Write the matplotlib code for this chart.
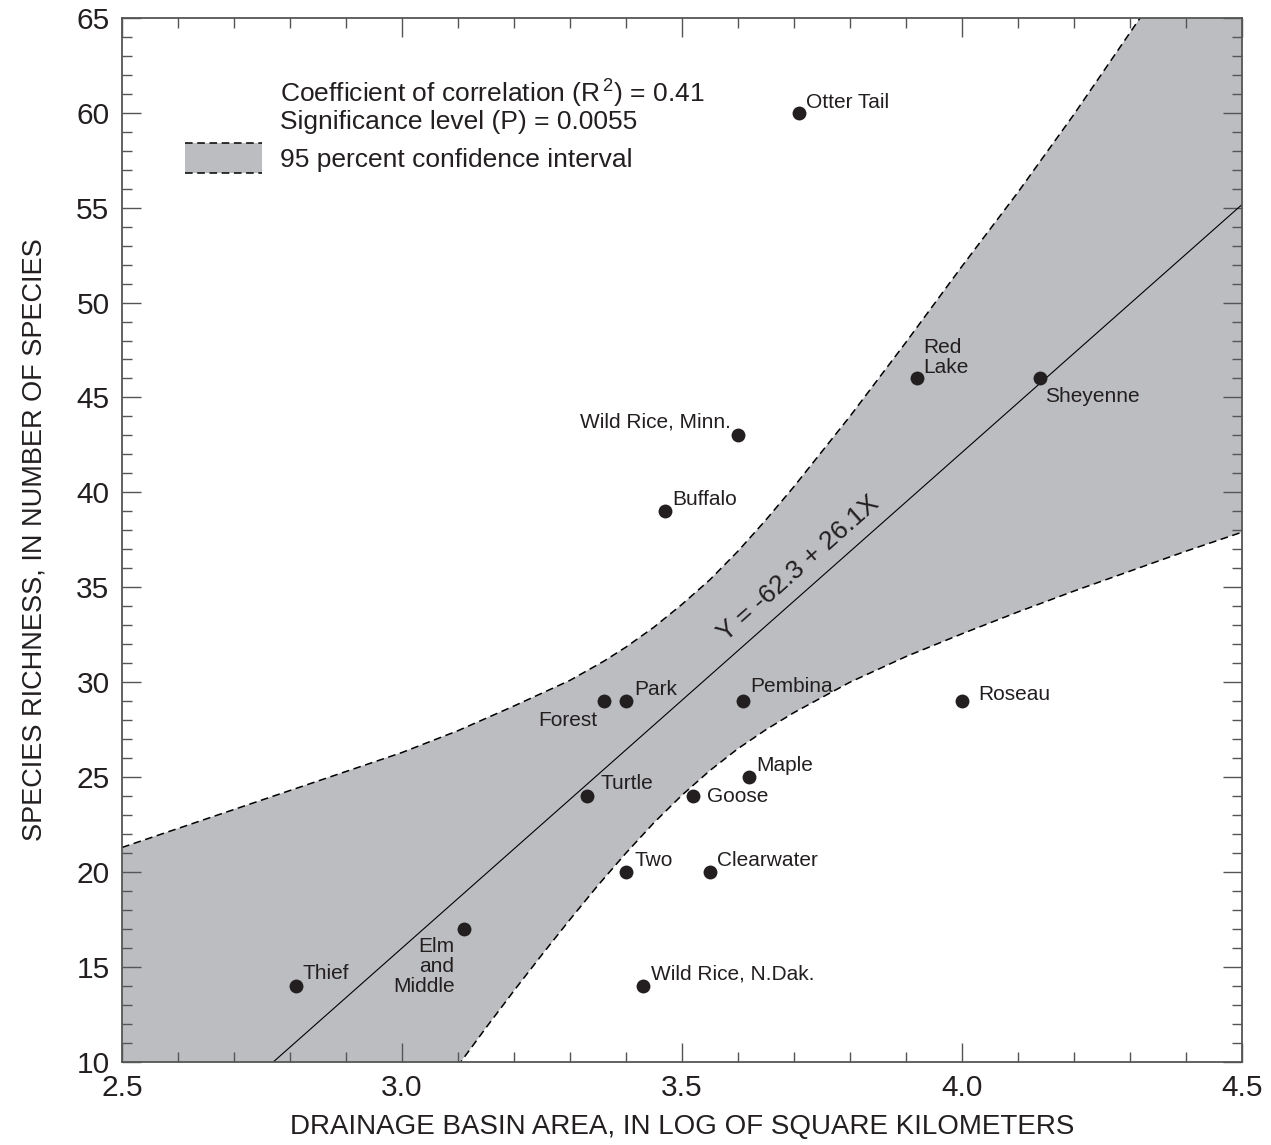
import numpy as np
import matplotlib
matplotlib.use('Agg')
import matplotlib.pyplot as plt
from matplotlib.ticker import MultipleLocator

plt.rcParams['font.family'] = ['Liberation Sans', 'DejaVu Sans']
plt.rcParams['mathtext.fontset'] = 'custom'
plt.rcParams['mathtext.rm'] = 'Liberation Sans'

# streams: log drainage area and species richness
names = ['Thief', 'Elm\nand\nMiddle', 'Turtle', 'Forest', 'Park', 'Two',
         'Wild Rice, N.Dak.', 'Buffalo', 'Goose', 'Clearwater',
         'Wild Rice, Minn.', 'Pembina', 'Maple', 'Otter Tail', 'Red\nLake',
         'Roseau', 'Sheyenne']
area = [2.81, 3.11, 3.33, 3.36, 3.40, 3.40, 3.43, 3.47, 3.52, 3.55,
        3.60, 3.61, 3.62, 3.71, 3.92, 4.00, 4.14]
species = [14, 17, 24, 29, 29, 20, 14, 39, 24, 20, 43, 29, 25, 60, 46, 29, 46]

# regression  Y = -62.3 + 26.1X
b0, b1 = -62.3, 26.1

# 95 percent confidence band
up_x = [2.5, 2.75, 3.0, 3.1, 3.2, 3.3, 3.36, 3.4, 3.45, 3.5, 3.55, 3.6, 3.65,
        3.7, 3.8, 3.9, 4.0, 4.1, 4.2, 4.3, 4.4, 4.5]
up_y = [21.3, 23.8, 26.3, 27.45, 28.75, 30.1, 31.1, 31.85, 32.9, 34.1, 35.4,
        36.9, 38.55, 40.3, 44.0, 47.9, 51.9, 55.8, 59.9, 64.2, 68.5, 72.8]
lo_x = [2.5, 2.8, 3.0, 3.1, 3.15, 3.2, 3.25, 3.3, 3.35, 3.4, 3.45, 3.5, 3.55,
        3.6, 3.65, 3.7, 3.8, 3.9, 4.0, 4.1, 4.2, 4.3, 4.4, 4.5]
lo_y = [-15.4, -2.7, 5.7, 9.8, 11.8, 13.75, 15.65, 17.5, 19.3, 21.0, 22.6, 24.05,
        25.35, 26.5, 27.5, 28.4, 30.0, 31.35, 32.55, 33.7, 34.8, 35.85, 36.9, 37.9]

# label offsets in pixels (dx, dy) and alignment
lab = {
    'Thief': (7, 7, 'left', 'baseline'),
    'Elm\nand\nMiddle': (-9, -8, 'right', 'top'),
    'Turtle': (14, 7, 'left', 'baseline'),
    'Forest': (-6, -25, 'right', 'baseline'),
    'Park': (8, 6, 'left', 'baseline'),
    'Two': (9, 6, 'left', 'baseline'),
    'Wild Rice, N.Dak.': (8, 7, 'left', 'baseline'),
    'Buffalo': (7, 6, 'left', 'baseline'),
    'Goose': (14, -6, 'left', 'baseline'),
    'Clearwater': (7, 6, 'left', 'baseline'),
    'Wild Rice, Minn.': (-7, 8, 'right', 'baseline'),
    'Pembina': (7, 9, 'left', 'baseline'),
    'Maple': (7, 6, 'left', 'baseline'),
    'Otter Tail': (7, 5, 'left', 'baseline'),
    'Red\nLake': (6, 5, 'left', 'baseline'),
    'Roseau': (16, 1, 'left', 'baseline'),
    'Sheyenne': (5, -24, 'left', 'baseline'),
}

fig = plt.figure(figsize=(12.71, 11.45), dpi=100)
ax = fig.add_axes([0.096, 0.0725, 0.881, 0.912])

band = '#bcbdc0'
ax.fill(np.r_[up_x, lo_x[::-1]], np.r_[up_y, lo_y[::-1]], color=band, lw=0, zorder=1)
ax.plot(up_x, up_y, color='black', lw=1.1, ls=(0, (5, 3)), zorder=2)
ax.plot(lo_x, lo_y, color='black', lw=1.1, ls=(0, (5, 3)), zorder=2)

xl = np.array([2.5, 4.5])
ax.plot(xl, b0 + b1 * xl, color='black', lw=0.8, zorder=2)

ax.scatter(area, species, s=100, color='#231f20', zorder=3, linewidths=0)

px = 72 / 100.0
for n, x, y in zip(names, area, species):
    dx, dy, ha, va = lab[n]
    ax.annotate(n, (x, y), xytext=(dx * px, dy * px), textcoords='offset points',
                ha=ha, va=va, fontsize=15, color='#231f20', linespacing=1.08,
                multialignment=ha)

ax.text(3.709, 36.0, 'Y = -62.3 + 26.1X', rotation=41.5, ha='center', va='center',
        fontsize=19, color='#231f20')

# legend block
ax.text(0.141, 0.9185, r'Coefficient of correlation (R$\mathregular{^{\,2}}$) = 0.41',
        transform=ax.transAxes, fontsize=19, va='baseline', color='#231f20')
ax.text(0.141, 0.8935, 'Significance level (P) = 0.0055',
        transform=ax.transAxes, fontsize=19, va='baseline', color='#231f20')
ax.text(0.141, 0.8575, '95 percent confidence interval',
        transform=ax.transAxes, fontsize=19, va='baseline', color='#231f20')
ax.fill_between([0.0563, 0.125], 0.8515, 0.8803, transform=ax.transAxes,
                color=band, lw=0)
for yy in (0.8515, 0.8803):
    ax.plot([0.0563, 0.125], [yy, yy], transform=ax.transAxes, color='black',
            lw=1.1, ls=(0, (5, 3)))

ax.set_xlim(2.5, 4.5)
ax.set_ylim(10, 65)
ax.xaxis.set_major_locator(MultipleLocator(0.5))
ax.xaxis.set_minor_locator(MultipleLocator(0.1))
ax.yaxis.set_major_locator(MultipleLocator(5))
ax.yaxis.set_minor_locator(MultipleLocator(1))
ax.set_xticks([2.5, 3.0, 3.5, 4.0, 4.5])
ax.set_xticklabels(['2.5', '3.0', '3.5', '4.0', '4.5'])
ax.tick_params(which='both', direction='in', top=True, right=True,
               color='#555555', width=1, labelsize=21.5, labelcolor='#231f20')
ax.tick_params(which='major', length=14, pad=9)
ax.tick_params(which='minor', length=7)
for s in ax.spines.values():
    s.set_color('#555555')
    s.set_linewidth(1.3)

ax.set_xlabel('DRAINAGE BASIN AREA, IN LOG OF SQUARE KILOMETERS', fontsize=20,
              color='#231f20', labelpad=8)
ax.set_ylabel('SPECIES RICHNESS, IN NUMBER OF SPECIES', fontsize=19.5,
              color='#231f20', labelpad=21)

fig.savefig('out.png', dpi=100)
